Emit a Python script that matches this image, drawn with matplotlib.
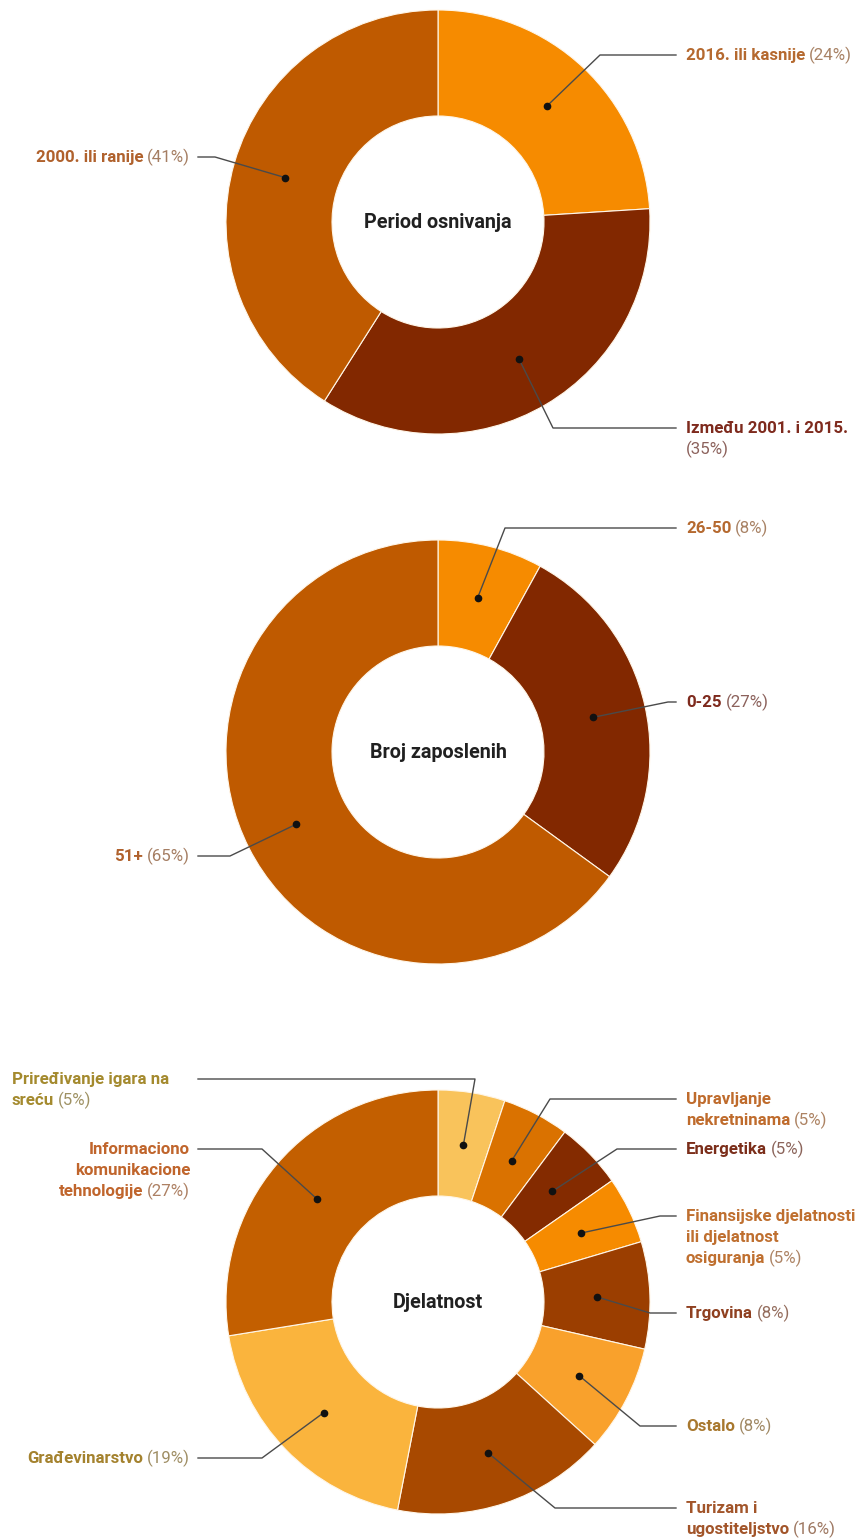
import numpy as np
import matplotlib
matplotlib.use('Agg')
import matplotlib.pyplot as plt
from matplotlib.colors import to_rgb

plt.rcParams['font.family'] = ['Roboto', 'DejaVu Sans']

W, H = 864, 1538

# --- data -------------------------------------------------------------
period_labels = ['2016. ili kasnije', 'Između 2001. i 2015.', '2000. ili ranije']
period_values = [24, 35, 41]

staff_labels = ['26-50', '0-25', '51+']
staff_values = [8, 27, 65]

sector_labels = ['Priređivanje igara na\nsreću', 'Upravljanje\nnekretninama', 'Energetika',
                 'Finansijske djelatnosti\nili djelatnost\nosiguranja', 'Trgovina', 'Ostalo',
                 'Turizam i\nugostiteljstvo', 'Građevinarstvo',
                 'Informaciono\nkomunikacione\ntehnologije']
sector_values = [5, 5, 5, 5, 8, 8, 16, 19, 27]

titles = ['Period osnivanja', 'Broj zaposlenih', 'Djelatnost']

# --- colours ----------------------------------------------------------
period_colors = ['#F68B00', '#822800', '#BF5A00']
period_text = ['#B5692F', '#7E2A1D', '#B0612C']
sector_colors = ['#F9C35B', '#DA7200', '#842B00', '#F68B00', '#9B3E00',
                 '#F9A12C', '#A84900', '#FAB43D', '#C35F00']
sector_text = ['#A48A2E', '#BF6B2C', '#7B2E1A', '#BF6F2F', '#8F4020',
               '#A8782E', '#A2552A', '#A4822E', '#C0652C']

# --- layout (pixels from top) -----------------------------------------
centers_y = [222, 752, 1302]
R_OUT, R_IN = 212, 106
CX = 438
LH = 21  # line height of label text

# side: 'r' = text right of pie, 'l' = text left (right aligned), 'L' = left edge aligned
period_layout = dict(y=[55, 428, 157], elbow=[600, 553, 215], side=['r', 'r', 'l'],
                     pct_break=[False, True, False])
staff_layout = dict(y=[528, 702, 856], elbow=[505, 668, 230], side=['r', 'r', 'l'],
                    pct_break=[False, False, False])
sector_layout = dict(y=[1079, 1099, 1149, 1216, 1313, 1426, 1508, 1458, 1149],
                     elbow=[475, 550, 617, 660, 650, 640, 555, 262, 262],
                     side=['L', 'r', 'r', 'r', 'r', 'r', 'r', 'l', 'l'],
                     pct_break=[False] * 9)

fig = plt.figure(figsize=(W / 100, H / 100), dpi=100)
ax = fig.add_axes([0, 0, 1, 1])
renderer = fig.canvas.get_renderer()
FS = 12.2


def fy(y):
    return H - y


def blend(c, other='#9a9a9a', t=0.5):
    a, b = np.array(to_rgb(c)), np.array(to_rgb(other))
    return tuple(a * (1 - t) + b * t)


def put_label(x, y, name, pct, color, ha, pct_break):
    lines = name.split('\n')
    base = y + 5
    for i, line in enumerate(lines[:-1]):
        ax.text(x, fy(base + i * LH), line, ha=ha, va='baseline', fontsize=FS,
                fontweight='bold', color=color)
    ly = base + (len(lines) - 1) * LH
    pcol = blend(color)
    if pct_break:
        ax.text(x, fy(ly), lines[-1], ha=ha, va='baseline', fontsize=FS,
                fontweight='bold', color=color)
        ax.text(x, fy(ly + LH), pct, ha=ha, va='baseline', fontsize=FS, color=pcol)
    elif ha == 'left':
        t = ax.text(x, fy(ly), lines[-1], ha='left', va='baseline', fontsize=FS,
                    fontweight='bold', color=color)
        w = t.get_window_extent(renderer).width
        ax.text(x + w + 4, fy(ly), pct, ha='left', va='baseline', fontsize=FS, color=pcol)
    else:
        t = ax.text(x, fy(ly), pct, ha='right', va='baseline', fontsize=FS, color=pcol)
        w = t.get_window_extent(renderer).width
        ax.text(x - w - 4, fy(ly), lines[-1], ha='right', va='baseline', fontsize=FS,
                fontweight='bold', color=color)


def donut(cy, values, labels, colors, tcolors, title, layout):
    wedges, _ = ax.pie(values, colors=colors, startangle=90, counterclock=False,
                       radius=R_OUT, center=(CX, fy(cy)),
                       wedgeprops=dict(width=R_OUT - R_IN, edgecolor='#fff6e8', linewidth=0.8))
    ax.text(CX, fy(cy), title, ha='center', va='center', fontsize=14.2,
            fontweight='bold', color='#202020')
    r_mid = (R_OUT + R_IN) / 2
    for i, wdg in enumerate(wedges):
        ang = np.deg2rad((wdg.theta1 + wdg.theta2) / 2)
        dx, dy = CX + r_mid * np.cos(ang), fy(cy) + r_mid * np.sin(ang)
        ly = layout['y'][i]
        ex = layout['elbow'][i]
        side = layout['side'][i]
        end = 676 if side == 'r' else 198
        ax.plot([dx, ex, end], [dy, fy(ly), fy(ly)], color='#4a4a4a', lw=1, zorder=3)
        ax.plot(dx, dy, 'o', color='#111111', markersize=4.5, zorder=4)
        pct = f'({values[i]}%)'
        if side == 'r':
            put_label(686, ly, labels[i], pct, tcolors[i], 'left', layout['pct_break'][i])
        elif side == 'l':
            put_label(190, ly, labels[i], pct, tcolors[i], 'right', layout['pct_break'][i])
        else:
            put_label(12, ly, labels[i], pct, tcolors[i], 'left', layout['pct_break'][i])


donut(centers_y[0], period_values, period_labels, period_colors, period_text,
      titles[0], period_layout)
donut(centers_y[1], staff_values, staff_labels, period_colors, period_text,
      titles[1], staff_layout)
donut(centers_y[2], sector_values, sector_labels, sector_colors, sector_text,
      titles[2], sector_layout)

ax.set_xlim(0, W)
ax.set_ylim(0, H)
ax.set_aspect('auto')
ax.axis('off')

fig.savefig('out.png', dpi=100, facecolor='white')
